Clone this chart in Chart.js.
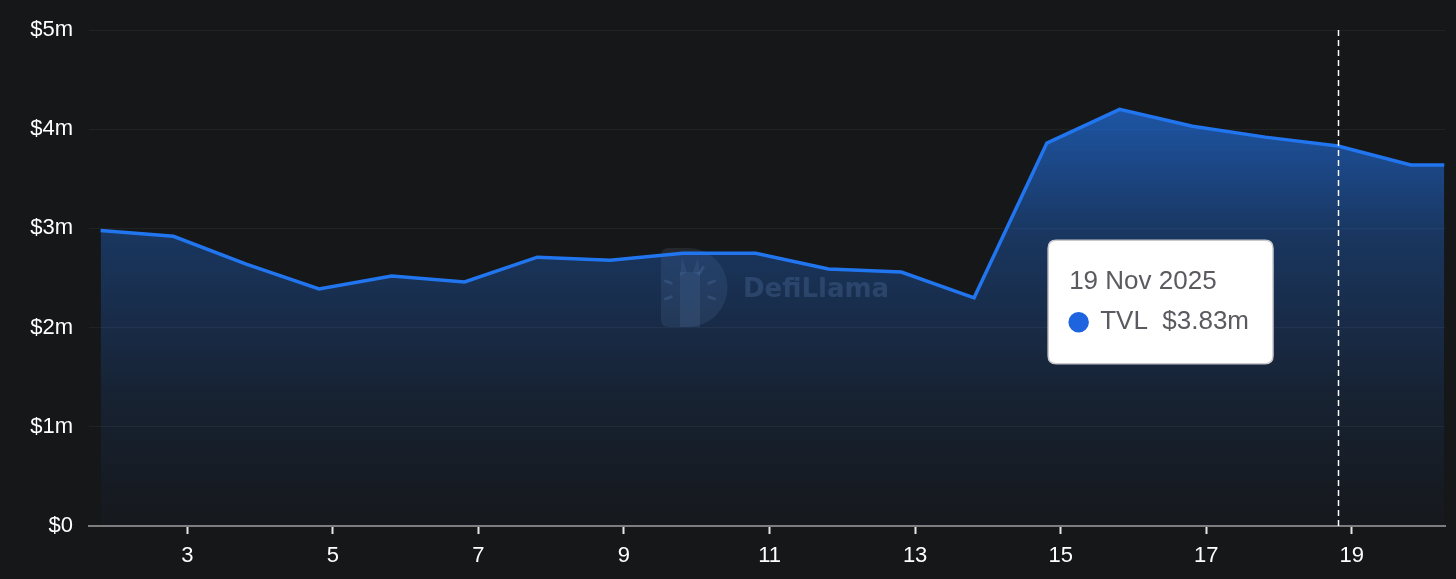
<!DOCTYPE html>
<html>
<head>
<meta charset="utf-8">
<script src="https://cdn.jsdelivr.net/npm/chart.js@4/dist/chart.umd.min.js"></script>
<style>
  html, body { margin: 0; padding: 0; background: #161719; }
  canvas { display: block; }
</style>
</head>
<body>
<canvas id="tvlChart" width="1456" height="579"></canvas>
<script>
// day of November (local time) for each TVL reading
const dayPos = [1.81, 2.81, 3.81, 4.81, 5.81, 6.81, 7.81, 8.81, 9.81, 10.81,
                11.81, 12.81, 13.81, 14.81, 15.81, 16.81, 17.81, 18.81, 19.81, 20.27];
// TVL in $ millions
const tvl = [2.98, 2.92, 2.64, 2.39, 2.52, 2.46, 2.71, 2.68, 2.75, 2.75,
             2.59, 2.56, 2.30, 3.86, 4.20, 4.03, 3.92, 3.83, 3.64, 3.64];
const tickDays = [3, 5, 7, 9, 11, 13, 15, 17, 19];
const hoverIndex = 17;

const lineColor = 'rgb(33, 118, 240)';
const font = "'Liberation Sans', Arial, Helvetica, sans-serif";

function areaFill(context) {
  const area = context.chart.chartArea;
  if (!area) return 'rgba(33,114,229,0.4)';
  const g = context.chart.ctx.createLinearGradient(0, area.top, 0, area.bottom);
  g.addColorStop(0, 'rgba(33,114,229,0.85)');
  g.addColorStop(0.18, 'rgba(33,114,229,0.66)');
  g.addColorStop(0.42, 'rgba(33,114,229,0.34)');
  g.addColorStop(0.75, 'rgba(33,114,229,0.12)');
  g.addColorStop(1, 'rgba(33,114,229,0.02)');
  return g;
}

// DefiLlama watermark behind the series
const watermark = {
  id: 'watermark',
  beforeDatasetsDraw(chart) {
    const ctx = chart.ctx;
    ctx.save();
    // D-shaped badge
    const x = 661, y = 248, h = 79;
    ctx.fillStyle = 'rgba(150,170,210,0.12)';
    ctx.beginPath();
    ctx.moveTo(x + 8, y);
    ctx.lineTo(x + 27, y);
    ctx.arc(x + 27, y + h / 2, h / 2, -Math.PI / 2, Math.PI / 2);
    ctx.lineTo(x + 8, y + h);
    ctx.quadraticCurveTo(x, y + h, x, y + h - 8);
    ctx.lineTo(x, y + 8);
    ctx.quadraticCurveTo(x, y, x + 8, y);
    ctx.fill();
    // simple llama silhouette
    ctx.fillStyle = 'rgba(150,170,210,0.12)';
    ctx.fillRect(x + 19, y + 24, 20, 55);
    ctx.beginPath();
    ctx.moveTo(x + 19, y + 28); ctx.lineTo(x + 21, y + 10); ctx.lineTo(x + 26, y + 24); ctx.fill();
    ctx.beginPath();
    ctx.moveTo(x + 39, y + 28); ctx.lineTo(x + 37, y + 10); ctx.lineTo(x + 32, y + 24); ctx.fill();
    ctx.strokeStyle = 'rgba(150,170,210,0.18)';
    ctx.lineWidth = 3;
    ctx.lineCap = 'round';
    [-60, -20, 20, 160, 200].forEach(a => {
      const r = a * Math.PI / 180;
      const cx = x + 29, cy = y + 42;
      ctx.beginPath();
      ctx.moveTo(cx + Math.cos(r) * 20, cy + Math.sin(r) * 20);
      ctx.lineTo(cx + Math.cos(r) * 26, cy + Math.sin(r) * 26);
      ctx.stroke();
    });
    ctx.fillStyle = 'rgba(150,170,210,0.2)';
    ctx.font = "bold 26px 'DejaVu Sans', sans-serif";
    ctx.textBaseline = 'middle';
    ctx.fillText('DefiLlama', 743, 290);
    ctx.restore();
  }
};

// dashed crosshair at the hovered point
const crosshair = {
  id: 'crosshair',
  afterDatasetsDraw(chart) {
    const pt = chart.getDatasetMeta(0).data[hoverIndex];
    const area = chart.chartArea;
    const ctx = chart.ctx;
    ctx.save();
    ctx.strokeStyle = '#ffffff';
    ctx.lineWidth = 1.5;
    ctx.setLineDash([6, 4]);
    ctx.beginPath();
    ctx.moveTo(Math.round(pt.x) + 0.5, area.top);
    ctx.lineTo(Math.round(pt.x) + 0.5, area.bottom);
    ctx.stroke();
    ctx.restore();
  }
};

Chart.Tooltip.positioners.fixedLeft = function (items) {
  if (!items.length) return false;
  const el = items[0].element;
  return { x: el.x - 65, y: el.y + 156 };
};

const chart = new Chart(document.getElementById('tvlChart'), {
  type: 'line',
  data: {
    datasets: [{
      label: 'TVL',
      data: dayPos.map((d, i) => ({ x: d, y: tvl[i] })),
      borderColor: lineColor,
      borderWidth: 3.5,
      backgroundColor: areaFill,
      fill: 'origin',
      pointRadius: 0,
      pointHoverRadius: 0,
      tension: 0
    }]
  },
  options: {
    responsive: false,
    animation: false,
    events: [],
    layout: { padding: { top: 30, right: 11, left: 0, bottom: 0 } },
    scales: {
      x: {
        type: 'linear',
        min: 1.65,
        max: 20.28,
        afterBuildTicks(scale) {
          scale.ticks = tickDays.map(v => ({ value: v }));
        },
        afterFit(scale) { scale.height = 53; },
        border: { display: true, color: 'rgb(125,125,128)', width: 2 },
        grid: { drawOnChartArea: false, drawTicks: true, tickLength: 8, tickColor: '#e6e6e6', tickWidth: 2 },
        ticks: { color: '#ffffff', font: { family: font, size: 22 }, padding: 9, maxRotation: 0, autoSkip: false }
      },
      y: {
        min: 0,
        max: 5,
        afterFit(scale) { scale.width = 89; },
        border: { display: false },
        grid: { color: 'rgba(255,255,255,0.05)', drawTicks: false },
        ticks: {
          stepSize: 1,
          color: '#ffffff',
          padding: 16,
          font: { family: font, size: 22 },
          callback: v => v === 0 ? '$0' : '$' + v + 'm'
        }
      }
    },
    plugins: {
      legend: { display: false },
      tooltip: {
        enabled: true,
        position: 'fixedLeft',
        xAlign: 'right',
        yAlign: 'center',
        caretSize: 0,
        caretPadding: 0,
        backgroundColor: '#ffffff',
        borderColor: 'rgb(200,200,204)',
        borderWidth: 1.5,
        cornerRadius: 8,
        padding: { top: 26, bottom: 26, left: 21, right: 24 },
        titleColor: 'rgb(90,90,96)',
        bodyColor: 'rgb(90,90,96)',
        titleFont: { family: font, size: 26, weight: 'normal' },
        bodyFont: { family: font, size: 26 },
        titleMarginBottom: 9,
        usePointStyle: true,
        boxWidth: 19,
        boxHeight: 19,
        boxPadding: 10,
        callbacks: {
          title: items => Math.round(items[0].parsed.x) + ' Nov 2025',
          label: item => 'TVL  $' + item.parsed.y.toFixed(2) + 'm',
          labelColor: () => ({ borderColor: 'rgb(30,100,222)', backgroundColor: 'rgb(30,100,222)', borderWidth: 0 }),
          labelPointStyle: () => ({ pointStyle: 'circle', rotation: 0 })
        }
      }
    }
  },
  plugins: [watermark, crosshair]
});

const hovered = chart.getDatasetMeta(0).data[hoverIndex];
chart.tooltip.setActiveElements([{ datasetIndex: 0, index: hoverIndex }], { x: hovered.x, y: hovered.y });
chart.update();
</script>
</body>
</html>
